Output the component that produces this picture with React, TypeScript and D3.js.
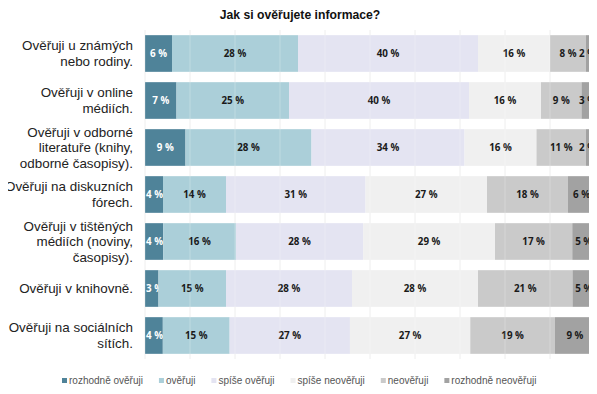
import React, { useEffect, useRef } from 'react';
import * as d3 from 'd3';

const title = 'Jak si ověřujete informace?';

const categories = [
  'Ověřuji u známých nebo rodiny.',
  'Ověřuji v online médiích.',
  'Ověřuji v odborné literatuře (knihy, odborné časopisy).',
  'Ověřuji na diskuzních fórech.',
  'Ověřuji v tištěných médiích (noviny, časopisy).',
  'Ověřuji v knihovně.',
  'Ověřuji na sociálních sítích.'
];

// how the labels wrap in the picture
const labelLines = [
  ['Ověřuji u známých', 'nebo rodiny.'],
  ['Ověřuji v online', 'médiích.'],
  ['Ověřuji v odborné', 'literatuře (knihy,', 'odborné časopisy).'],
  ['Ověřuji na diskuzních', 'fórech.'],
  ['Ověřuji v tištěných', 'médiích (noviny,', 'časopisy).'],
  ['Ověřuji v knihovně.'],
  ['Ověřuji na sociálních', 'sítích.']
];

const seriesNames = [
  'rozhodně ověřuji',
  'ověřuji',
  'spíše ověřuji',
  'spíše neověřuji',
  'neověřuji',
  'rozhodně neověřuji'
];

const rozhodneOverujiValues = [6, 7, 9, 4, 4, 3, 4];
const overujiValues = [28, 25, 28, 14, 16, 15, 15];
const spiseOverujiValues = [40, 40, 34, 31, 28, 28, 27];
const spiseNeoverujiValues = [16, 16, 16, 27, 29, 28, 27];
const neoverujiValues = [8, 9, 11, 18, 17, 21, 19];
const rozhodneNeoverujiValues = [2, 3, 2, 6, 5, 5, 9];

const colors = ['#4f8399', '#abcfd9', '#e4e4f2', '#f0f0f0', '#cacaca', '#a2a2a2'];

const gridTicks = d3.range(0, 1.01, 0.1);

export default function App() {
  const ref = useRef(null);

  useEffect(() => {
    const width = 597;
    const height = 394;
    const svg = d3.select(ref.current);
    svg.selectAll('*').remove();

    const canvas = document.createElement('canvas');
    const ctx = canvas.getContext('2d');

    const allValues = [
      rozhodneOverujiValues,
      overujiValues,
      spiseOverujiValues,
      spiseNeoverujiValues,
      neoverujiValues,
      rozhodneNeoverujiValues
    ];
    const rows = categories.map((c, i) => {
      const row: any = { category: c };
      seriesNames.forEach((s, j) => { row[s] = allValues[j][i]; });
      return row;
    });

    const stack = d3.stack().keys(seriesNames).offset(d3.stackOffsetExpand);
    const layers = stack(rows);

    const x = d3.scaleLinear().domain([0, 1]).range([145, 595]);
    const y = d3.scaleBand().domain(categories).range([30, 359]).paddingInner(0.22).paddingOuter(0.11);

    svg.append('rect').attr('width', width).attr('height', height).attr('fill', '#fff');

    svg.append('text')
      .attr('x', 300)
      .attr('y', 19)
      .attr('text-anchor', 'middle')
      .style('font-family', 'Liberation Sans, Arial, sans-serif')
      .style('font-size', '12.2px')
      .style('font-weight', 'bold')
      .style('fill', '#111')
      .text(title);

    const grid = svg.append('g');
    grid.selectAll('line')
      .data(gridTicks)
      .enter()
      .append('line')
      .attr('x1', (d) => x(d))
      .attr('x2', (d) => x(d))
      .attr('y1', 30)
      .attr('y2', 359)
      .attr('stroke', '#ececec')
      .attr('stroke-width', 1);

    ctx.font = 'bold 9.8px "Open Sans", sans-serif';
    const labelX = (d, txt) => {
      const w = ctx.measureText(txt).width;
      const mid = (x(d[0]) + x(d[1])) / 2;
      return Math.max(x(0) + w / 2 + 1, Math.min(width - w / 2 - 1, mid));
    };

    const g = svg.append('g');
    layers.forEach((layer, li) => {
      const lg = g.append('g');
      lg.selectAll('rect')
        .data(layer)
        .enter()
        .append('rect')
        .attr('x', (d) => x(d[0]))
        .attr('y', (d) => y(d.data.category))
        .attr('width', (d) => x(d[1]) - x(d[0]))
        .attr('height', y.bandwidth())
        .attr('fill', colors[li]);

      lg.selectAll('text')
        .data(layer)
        .enter()
        .append('text')
        .attr('x', (d) => labelX(d, d.data[seriesNames[li]] + ' %'))
        .attr('y', (d) => y(d.data.category) + y.bandwidth() / 2)
        .attr('dy', '0.35em')
        .attr('text-anchor', 'middle')
        .style('font-family', 'Open Sans, sans-serif')
        .style('font-size', '9.8px')
        .style('font-weight', 'bold')
        .style('fill', li === 0 ? '#fff' : '#1a1a1a')
        .text((d) => d.data[seriesNames[li]] + ' %');
    });

    // faint grid showing through the bars
    svg.append('g').selectAll('line')
      .data(gridTicks)
      .enter()
      .append('line')
      .attr('x1', (d) => x(d))
      .attr('x2', (d) => x(d))
      .attr('y1', 30)
      .attr('y2', 359)
      .attr('stroke', '#ffffff')
      .attr('stroke-opacity', 0.25)
      .attr('stroke-width', 1);

    const labels = svg.append('g');
    categories.forEach((c, i) => {
      const lines = labelLines[i];
      const cy = y(c) + y.bandwidth() / 2;
      const t = labels.append('text')
        .attr('text-anchor', 'end')
        .style('font-family', 'Liberation Sans, Arial, sans-serif')
        .style('font-size', '13.4px')
        .style('fill', '#222');
      lines.forEach((line, k) => {
        t.append('tspan')
          .attr('x', 133)
          .attr('y', cy + (k - (lines.length - 1) / 2) * 15.5)
          .attr('dy', '0.35em')
          .text(line);
      });
    });

    // legend
    ctx.font = '10px Liberation Sans, Arial, sans-serif';
    let lx = 62;
    const legend = svg.append('g');
    seriesNames.forEach((s, i) => {
      legend.append('rect')
        .attr('x', lx)
        .attr('y', 378)
        .attr('width', 5)
        .attr('height', 5)
        .attr('fill', colors[i]);
      legend.append('text')
        .attr('x', lx + 7)
        .attr('y', 384)
        .style('font-family', 'Liberation Sans, Arial, sans-serif')
        .style('font-size', '10px')
        .style('fill', '#555')
        .text(s);
      lx += 7 + ctx.measureText(s).width + 16;
    });
  }, []);

  return (
    <div style={{ margin: -8 }}>
      <svg ref={ref} width={597} height={394} style={{ display: 'block' }}></svg>
    </div>
  );
}
